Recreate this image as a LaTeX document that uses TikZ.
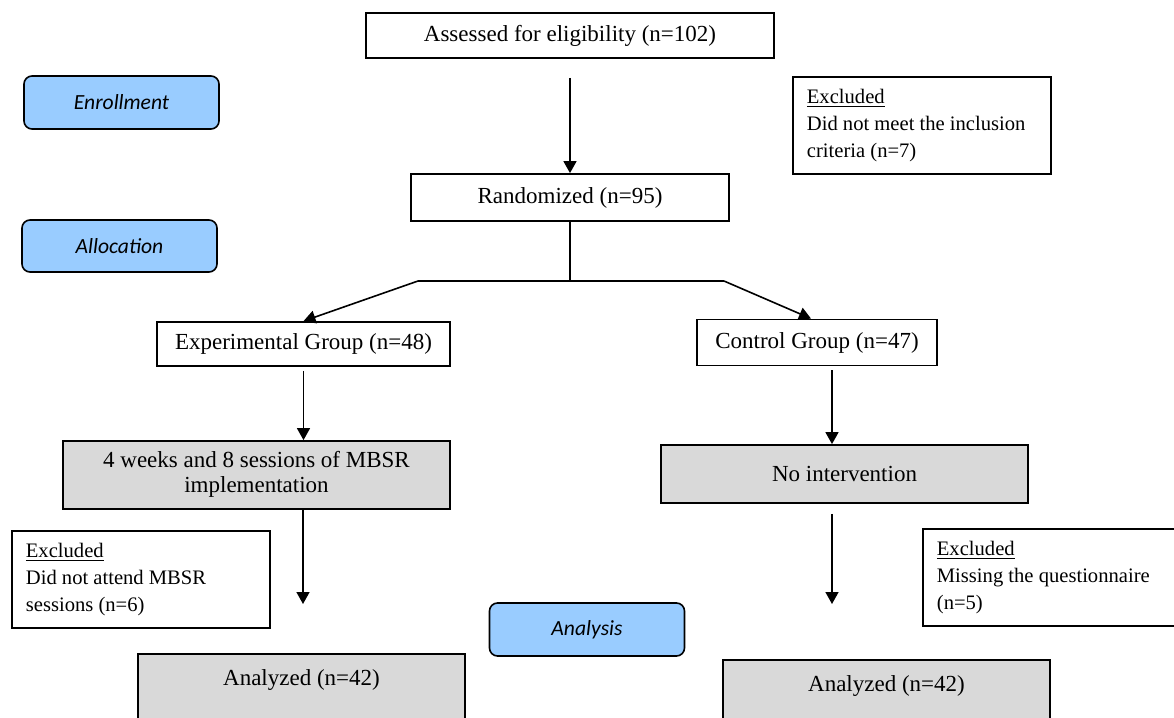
\documentclass[tikz,border=0pt]{standalone}
\usepackage{fontspec}
\setmainfont{Liberation Serif}
\newfontfamily\tagfont{Carlito}
\usetikzlibrary{arrows.meta,positioning}
\definecolor{tagblue}{RGB}{153,204,255}
\definecolor{boxgrey}{RGB}{217,217,217}

\begin{document}
\begin{tikzpicture}[
		x=0.5pt, y=-0.5pt,
		box/.style={draw, line width=0.9pt, inner sep=0pt, font=\fontsize{11.5}{12.5}\selectfont},
		shaded/.style={box, fill=boxgrey},
		excl/.style={draw, line width=0.9pt, anchor=north west, inner xsep=7pt, inner ysep=0pt, text width=115pt, minimum height=48.5pt, align=flush left, font=\fontsize{10.3}{13.5}\selectfont},
		stage/.style={draw, line width=0.8pt, rounded corners=4pt, fill=tagblue, minimum width=97.5pt, minimum height=26.5pt, font={\fontsize{10.8}{13}\tagfont\itshape}},
		result/.style={shaded, anchor=north, inner sep=4pt, text height=11.75pt, text depth=25pt},
		arrow/.style={line width=0.8pt, -{Triangle[length=6pt,width=6.5pt]}},
		link/.style={line width=0.8pt},
	]
		\useasboundingbox (0,0) rectangle (1174,718);
		\clip (0,0) rectangle (1174,718);
		
		\node[box, minimum width=204pt, minimum height=22.5pt] (assess) at (570,35.5) {Assessed for eligibility (n=102)};
		\node[stage] (enroll) at (121.5,102.5) {Enrollment};
		\node[excl] (excltop) at (792,76) {\underline{Excluded}\\Did not meet the inclusion\\criteria (n=7)};
		\node[box, minimum width=159pt, minimum height=23.5pt] (random) at (570,197.5) {Randomized (n=95)};
		\node[stage, minimum height=26pt] (alloc) at (119.5,246) {Allocation};
		
		\node[box, minimum width=146.5pt, minimum height=22pt] (exp) at (303.5,344) {Experimental Group (n=48)};
		\node[box, minimum width=120pt, minimum height=23pt] (ctrl) at (817,342.5) {Control Group (n=47)};
		\node[shaded, minimum width=193.5pt, minimum height=34pt, align=center, text depth=3pt] (mbsr) at (256.5,475) {4 weeks and 8 sessions of MBSR\\implementation};
		\node[shaded, minimum width=183.5pt, minimum height=29pt] (noint) at (844.5,474) {No intervention};
		
		\node[excl] (exclleft) at (11,530) {\underline{Excluded}\\Did not attend MBSR\\sessions (n=6)};
		\node[stage] (analysis) at (587,629.5) {Analysis};
		\node[excl] (exclright) at (922,528) {\underline{Excluded}\\Missing the questionnaire\\(n=5)};
		\node[result, minimum width=163.5pt] (anlleft) at (301.5,653) {Analyzed (n=42)};
		\node[result, minimum width=163.5pt] (anlright) at (886.5,659) {Analyzed (n=42)};
		
		\coordinate (split) at (570,281);
		\coordinate (splitL) at (418,281);
		\coordinate (splitR) at (724,281);
		\coordinate (endL) at (303,604);
		\coordinate (endR) at (832,604);
		
		\draw[arrow, shorten <=9.5pt] (assess) -- (random);
		\draw[link] (random) -- (split);
		\draw[link] (splitL) -- (splitR);
		\draw[arrow] (splitL) -- (exp.north);
		\draw[arrow] (splitR) -- ([xshift=-3pt]ctrl.north);
		\draw[arrow, shorten <=2pt] (exp.south) -- (exp.south |- mbsr.north);
		\draw[arrow, shorten <=2pt] ([xshift=7.5pt]ctrl.south) -- ([xshift=7.5pt]ctrl.south |- noint.north);
		\draw[arrow] (mbsr.south -| endL) -- (endL);
		\draw[arrow, shorten <=5pt] (noint.south -| endR) -- (endR);
	\end{tikzpicture}
\end{document}
